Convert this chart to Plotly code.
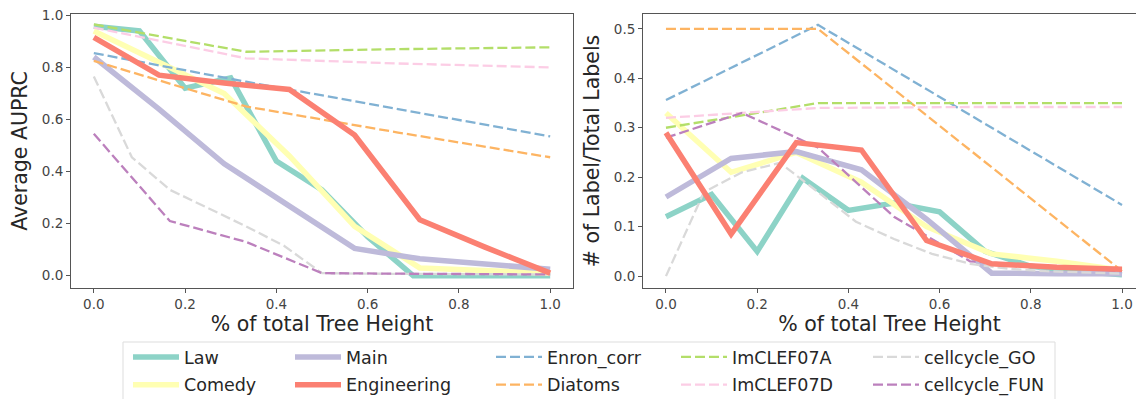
import plotly.graph_objects as go

W, H = 1136, 399

# ---------------- data ----------------
x10 = [0.0, 0.1, 0.2, 0.3, 0.4, 0.5, 0.6, 0.7, 0.8, 0.9, 1.0]
x7 = [0.0, 1/7, 2/7, 3/7, 4/7, 5/7, 6/7, 1.0]
x3 = [0.0, 1/3, 2/3, 1.0]
x12 = [i/12 for i in range(13)]
x6 = [0.0, 1/6, 2/6, 3/6, 4/6, 5/6, 1.0]

# left panel: Average AUPRC
law_auprc = [0.958, 0.94, 0.72, 0.76, 0.44, 0.33, 0.15, 0.0, 0.0, 0.0, 0.0]
comedy_auprc = [0.94, 0.82, 0.70, 0.46, 0.19, 0.03, 0.02, 0.01]
main_auprc = [0.84, 0.64, 0.43, 0.27, 0.105, 0.065, 0.045, 0.025]
eng_auprc = [0.915, 0.77, 0.74, 0.715, 0.54, 0.215, 0.11, 0.01]
enron_auprc = [0.855, 0.745, 0.64, 0.535]
diatoms_auprc = [0.825, 0.65, 0.55, 0.455]
imclefa_auprc = [0.965, 0.86, 0.87, 0.877]
imclefd_auprc = [0.953, 0.835, 0.815, 0.80]
go_auprc = [0.765, 0.455, 0.33, 0.26, 0.19, 0.115, 0.01, 0.008, 0.007, 0.006, 0.005, 0.005, 0.005]
fun_auprc = [0.545, 0.21, 0.13, 0.01, 0.008, 0.006, 0.005]

# right panel: # of Label / Total Labels
law_ratio = [0.12, 0.165, 0.05, 0.198, 0.133, 0.148, 0.13, 0.05, 0.02, 0.01, 0.003]
comedy_ratio = [0.33, 0.21, 0.25, 0.19, 0.10, 0.045, 0.03, 0.012]
main_ratio = [0.16, 0.238, 0.252, 0.215, 0.115, 0.006, 0.005, 0.005]
eng_ratio = [0.29, 0.085, 0.27, 0.255, 0.072, 0.025, 0.018, 0.014]
enron_ratio = [0.356, 0.508, 0.326, 0.144]
diatoms_ratio = [0.50, 0.50, 0.255, 0.01]
imclefa_ratio = [0.30, 0.35, 0.35, 0.35]
imclefd_ratio = [0.32, 0.34, 0.342, 0.342]
go_ratio = [0.0, 0.17, 0.21, 0.229, 0.17, 0.11, 0.075, 0.045, 0.025, 0.015, 0.01, 0.008, 0.005]
fun_ratio = [0.28, 0.33, 0.26, 0.12, 0.03, 0.02, 0.01]

x_ticks = [0.0, 0.2, 0.4, 0.6, 0.8, 1.0]
left_y_ticks = [0.0, 0.2, 0.4, 0.6, 0.8, 1.0]
right_y_ticks = [0.0, 0.1, 0.2, 0.3, 0.4, 0.5]

# name, color, solid?, x, left, right, legend column
series = [
    ("Law", "#8dd3c7", True, x10, law_auprc, law_ratio, "legend"),
    ("Comedy", "#ffffb3", True, x7, comedy_auprc, comedy_ratio, "legend"),
    ("Main", "#bebada", True, x7, main_auprc, main_ratio, "legend2"),
    ("Enron_corr", "#80b1d3", False, x3, enron_auprc, enron_ratio, "legend3"),
    ("Diatoms", "#fdb462", False, x3, diatoms_auprc, diatoms_ratio, "legend3"),
    ("ImCLEF07A", "#b3de69", False, x3, imclefa_auprc, imclefa_ratio, "legend4"),
    ("ImCLEF07D", "#fccde5", False, x3, imclefd_auprc, imclefd_ratio, "legend4"),
    ("cellcycle_GO", "#d9d9d9", False, x12, go_auprc, go_ratio, "legend5"),
    ("cellcycle_FUN", "#bc80bd", False, x6, fun_auprc, fun_ratio, "legend5"),
    ("Engineering", "#fb8072", True, x7, eng_auprc, eng_ratio, "legend2"),
]
legend_rank = {"Law": 1, "Comedy": 2, "Main": 1, "Engineering": 2,
               "Enron_corr": 1, "Diatoms": 2, "ImCLEF07A": 1, "ImCLEF07D": 2,
               "cellcycle_GO": 1, "cellcycle_FUN": 2}

fig = go.Figure()
for name, color, solid, xs, ly, ry, leg in series:
    line = dict(color=color, width=5.5) if solid else dict(color=color, width=2.3, dash="10px,4px")
    fig.add_trace(go.Scatter(x=xs, y=ly, mode="lines", name=name, line=line,
                             legendgroup=name, legend=leg, legendrank=legend_rank[name],
                             xaxis="x", yaxis="y"))
    fig.add_trace(go.Scatter(x=xs, y=ry, mode="lines", name=name, line=line,
                             legendgroup=name, showlegend=False,
                             xaxis="x2", yaxis="y2"))

FONT = "DejaVu Sans"
tickfont = dict(family=FONT, size=13.5, color="#444444")
titlefont = dict(family=FONT, size=20.5, color="#262626")
axcol = "#555555"

def px(x):
    return x / W

def py(y):
    return 1 - y / H

ydom = [py(288), py(14)]
common_x = dict(tickvals=x_ticks, ticktext=[f"{v:.1f}" for v in x_ticks], ticks="outside",
                ticklen=4, tickcolor=axcol, showline=True, linecolor=axcol, linewidth=1,
                mirror=True, showgrid=False, zeroline=False, tickfont=tickfont,
                automargin=False,
                title=dict(text="% of total Tree Height", font=titlefont, standoff=3))

legend_common = dict(orientation="v", bgcolor="rgba(0,0,0,0)", borderwidth=0,
                     font=dict(family=FONT, size=17.5, color="#262626"),
                     xanchor="left", yanchor="top", y=py(339), tracegroupgap=2,
                     itemwidth=46)

fig.update_layout(
    width=W, height=H, margin=dict(l=0, r=0, t=0, b=0, autoexpand=False),
    paper_bgcolor="white", plot_bgcolor="white",
    font=dict(family=FONT),
    xaxis=dict(domain=[px(71), px(573)], range=[-0.05, 1.05], anchor="y", **common_x),
    yaxis=dict(domain=ydom, range=[-0.047, 1.005], anchor="x",
               tickvals=left_y_ticks, ticktext=[f"{v:.1f}" for v in left_y_ticks],
               ticks="outside", ticklen=4, tickcolor=axcol, showline=True,
               linecolor=axcol, linewidth=1, mirror=True, showgrid=False, zeroline=False,
               automargin=False,
               tickfont=tickfont, title=dict(text="Average AUPRC", font=titlefont, standoff=8)),
    xaxis2=dict(domain=[px(643), 1.0], range=[-0.0504, 1.0307], anchor="y2", **common_x),
    yaxis2=dict(domain=ydom, range=[-0.024, 0.530], anchor="x2",
                tickvals=right_y_ticks, ticktext=[f"{v:.1f}" for v in right_y_ticks],
                ticks="outside", ticklen=4, tickcolor=axcol, showline=True,
                linecolor=axcol, linewidth=1, mirror=False, showgrid=False, zeroline=False,
                automargin=False,
                tickfont=tickfont, title=dict(text="# of Label/Total Labels", font=titlefont, standoff=8)),
    legend=dict(x=px(128), **legend_common),
    legend2=dict(x=px(290), **legend_common),
    legend3=dict(x=px(491), **legend_common),
    legend4=dict(x=px(676), **legend_common),
    legend5=dict(x=px(868), **legend_common),
    shapes=[dict(type="rect", xref="paper", yref="paper", x0=px(123), x1=px(1055),
                 y0=py(405), y1=py(342), line=dict(color="#dddddd", width=1),
                 fillcolor="rgba(0,0,0,0)", layer="below")],
)

fig.write_html("out.html")
